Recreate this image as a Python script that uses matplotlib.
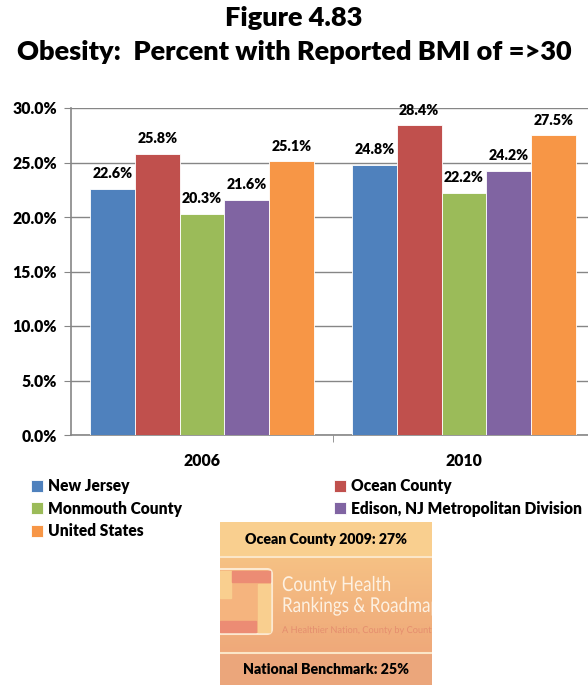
import matplotlib
matplotlib.use("Agg")
import matplotlib.pyplot as plt
import numpy as np
from matplotlib.patches import Rectangle, FancyBboxPatch, PathPatch
from matplotlib.colors import LinearSegmentedColormap
from matplotlib.textpath import TextPath
from matplotlib.font_manager import FontProperties
from matplotlib.transforms import Affine2D

plt.rcParams['font.family'] = ['Lato', 'DejaVu Sans']

years = ["2006", "2010"]
series = ["New Jersey", "Ocean County", "Monmouth County",
          "Edison, NJ Metropolitan Division", "United States"]
values = {
    "New Jersey": [22.6, 24.8],
    "Ocean County": [25.8, 28.4],
    "Monmouth County": [20.3, 22.2],
    "Edison, NJ Metropolitan Division": [21.6, 24.2],
    "United States": [25.1, 27.5],
}
colors = ["#4F81BD", "#C0504D", "#9BBB59", "#8064A2", "#F79646"]
yticks = [0, 5, 10, 15, 20, 25, 30]

W, H = 588, 685
fig = plt.figure(figsize=(W / 100, H / 100), dpi=100)
BW = "heavy"

def fx(px):
    return px / W

def fy(py):
    return 1 - py / H

fig.text(0.5, fy(18), "Figure 4.83", ha="center", va="center",
         fontsize=19.5, fontweight=BW)
fig.text(0.5, fy(52), "Obesity:  Percent with Reported BMI of =>30", ha="center",
         va="center", fontsize=19.5, fontweight=BW)

ax = fig.add_axes([fx(71), fy(435), fx(595) - fx(71), fy(108) - fy(435)])
x = np.arange(len(years))
bw = 0.171
for i, (s, c) in enumerate(zip(series, colors)):
    pos = x + (i - 2) * bw
    ax.bar(pos, values[s], width=bw, color=c, edgecolor="white",
           linewidth=0.6, zorder=3, label=s)
    for xx, v in zip(pos, values[s]):
        ax.text(xx, v + 0.8, f"{v:.1f}%", ha="center", va="bottom",
                fontsize=10.3, fontweight=BW)

ax.set_xlim(-0.5, 1.5)
ax.set_ylim(0, 30)
ax.set_yticks(yticks)
ax.set_yticklabels([f"{t:.1f}%" for t in yticks], fontsize=11.3, fontweight=BW)
ax.yaxis.grid(True, color="#868686", linewidth=1, zorder=0)
ax.set_axisbelow(True)
ax.set_xticks([0.5], minor=True)
ax.set_xticks(x)
ax.set_xticklabels(years, fontsize=11.3, fontweight=BW)
ax.tick_params(axis="x", which="major", length=0, pad=13)
ax.tick_params(axis="x", which="minor", length=5, color="#868686", direction="out")
ax.tick_params(axis="y", length=5, color="#868686", direction="out", pad=5)
for sp in ["top", "right"]:
    ax.spines[sp].set_visible(False)
for sp in ["left", "bottom"]:
    ax.spines[sp].set_color("#868686")
    ax.spines[sp].set_linewidth(1.2)

# legend (two columns as two legends)
handles, labels = ax.get_legend_handles_labels()
legkw = dict(loc="upper left", frameon=False,
             prop={"size": 11.2, "weight": BW},
             handlelength=0.8, handleheight=0.8, handletextpad=0.3,
             labelspacing=0.42, borderaxespad=0, borderpad=0)
fig.legend([handles[i] for i in [0, 2, 4]], [labels[i] for i in [0, 2, 4]],
           bbox_to_anchor=(fx(31), fy(478)), **legkw)
fig.legend([handles[i] for i in [1, 3]], [labels[i] for i in [1, 3]],
           bbox_to_anchor=(fx(334), fy(478)), **legkw)

# bottom image box
bx = fig.add_axes([fx(220), 0, fx(432) - fx(220), fy(522)])
bx.set_xlim(220, 432)
bx.set_ylim(685, 522)
bx.axis("off")
bx.add_patch(Rectangle((220, 522), 212, 34, color="#F9CF8F"))
grad = np.linspace(0, 1, 100).reshape(-1, 1)
cm = LinearSegmentedColormap.from_list("g", ["#F6C184", "#EFA97A"])
bx.imshow(grad, extent=(220, 432, 652, 557), cmap=cm, aspect="auto", zorder=1)
bx.add_patch(Rectangle((220, 653), 212, 32, color="#EBA67B", zorder=1))
bx.plot([220, 432], [556.5, 556.5], color="#FBE6C8", lw=1.5, zorder=2)
bx.plot([220, 432], [652.5, 652.5], color="#FBE6C8", lw=1.5, zorder=2)
bx.text(326, 540, "Ocean County 2009: 27%", ha="center", va="center",
        fontsize=10.2, fontweight=BW, zorder=5)
bx.text(326, 670, "National Benchmark: 25%", ha="center", va="center",
        fontsize=10.2, fontweight=BW, zorder=5)
# logo
bx.add_patch(FancyBboxPatch((212, 569), 60, 65, boxstyle="round,pad=0,rounding_size=5",
                            fc="#F5B47E", ec="#FCE9D2", lw=1.5, zorder=3))
bx.add_patch(Rectangle((220, 571), 11, 27, color="#F9CF8F", zorder=4))
bx.add_patch(Rectangle((232, 571), 38, 11, color="#EC8C74", zorder=4))
bx.add_patch(Rectangle((258, 584), 12, 48, color="#F9CF8F", zorder=4))
bx.add_patch(Rectangle((220, 621), 36, 11, color="#EC8C74", zorder=4))
fp = FontProperties(family="Lato")
for txt, base, capw, caph, col in [("County Health", 591, 17.0, 20.5, "#FDF1E2"),
                                   ("Rankings & Roadmaps", 612, 17.0, 20.5, "#FDF1E2"),
                                   ("A Healthier Nation, County by County", 633, 9.2, 9.5, "#E58E6E")]:
    tp = TextPath((0, 0), txt, size=1, prop=fp)
    tr = Affine2D().scale(capw, -caph).translate(282, base) + bx.transData
    pp = PathPatch(tp, transform=tr, fc=col, ec="none", zorder=5)
    bx.add_patch(pp)
    pp.set_clip_path(bx.patch)

fig.savefig("out.png", dpi=100)
